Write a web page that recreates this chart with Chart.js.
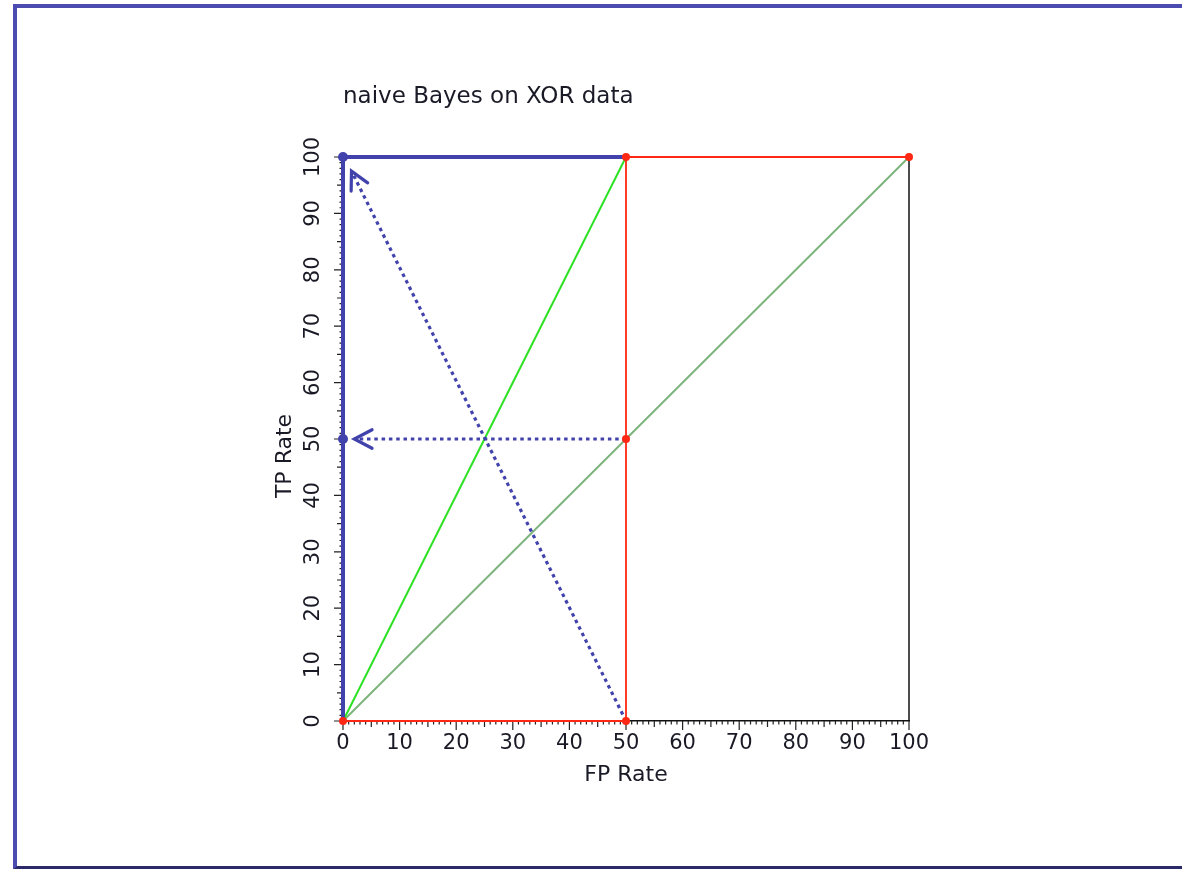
<!DOCTYPE html>
<html>
<head>
<meta charset="utf-8">
<script src="https://cdn.jsdelivr.net/npm/chart.js@4.4.1/dist/chart.umd.min.js"></script>
<style>
    body { margin: 0; background: #fff; }
    #frame {
        position: absolute; left: 13px; top: 4px; width: 1200px; height: 858px;
        border-left: 4px solid #4b4bb0; border-top: 4px solid #4b4bb0; border-bottom: 4px solid #2a2a6a;
    }
    #roc { position: absolute; left: 0; top: 0; }
</style>
</head>
<body>
<div id="frame"></div>
<canvas id="roc" width="1182" height="869"></canvas>
<script>
const titleText = "naive Bayes on XOR data";
const xLabel = "FP Rate";
const yLabel = "TP Rate";
const tickValues = [0, 10, 20, 30, 40, 50, 60, 70, 80, 90, 100];

// ROC step curve (red)
const redFpr = [0, 50, 50, 50, 100];
const redTpr = [0, 0, 50, 100, 100];
// convex hull after XOR fix (blue)
const blueFpr = [0, 0, 0, 50];
const blueTpr = [0, 50, 100, 100];
// bright green and muted green diagonals
const greenFpr = [0, 50];
const greenTpr = [0, 100];
const diagFpr = [0, 100];
const diagTpr = [0, 100];
// dotted arrows: start and tip
const arrowFromFpr = [50, 50];
const arrowFromTpr = [0, 50];
const arrowToFpr = [1.5, 2];
const arrowToTpr = [97.5, 50];

const pts = (xs, ys) => xs.map((x, i) => ({ x: x, y: ys[i] }));

const BLUE = "rgb(66, 66, 172)";
const RED = "rgb(255, 40, 20)";
const FONT = "'DejaVu Sans', sans-serif";

const arrowSets = arrowFromFpr.map((x, i) => ({
    data: pts([x, arrowToFpr[i]], [arrowFromTpr[i], arrowToTpr[i]]),
    showLine: true,
    borderColor: BLUE,
    borderWidth: 3.2,
    borderDash: [3.5, 3.8],
    pointRadius: 0,
}));

const decor = {
    id: "decor",
    beforeDatasetsDraw(chart) {
        const ctx = chart.ctx;
        const xs = chart.scales.x, ys = chart.scales.y;
        const a = chart.chartArea;
        ctx.save();
        // right border
        ctx.strokeStyle = "#111";
        ctx.lineWidth = 1.5;
        ctx.beginPath();
        ctx.moveTo(a.right, a.top);
        ctx.lineTo(a.right, a.bottom);
        ctx.stroke();
        // tick marks, major / mid / minor
        ctx.lineWidth = 1.2;
        ctx.strokeStyle = "#222";
        for (let v = 0; v <= 100; v++) {
            const len = v % 10 === 0 ? 9 : (v % 5 === 0 ? 6 : 3.5);
            const px = xs.getPixelForValue(v);
            const py = ys.getPixelForValue(v);
            ctx.beginPath();
            ctx.moveTo(px, a.bottom);
            ctx.lineTo(px, a.bottom + len);
            ctx.moveTo(a.left, py);
            ctx.lineTo(a.left - len, py);
            ctx.stroke();
        }
        ctx.restore();
    },
    afterDatasetsDraw(chart) {
        const ctx = chart.ctx;
        const xs = chart.scales.x, ys = chart.scales.y;
        const a = chart.chartArea;
        ctx.save();
        // arrow heads
        ctx.strokeStyle = BLUE;
        ctx.lineWidth = 3.2;
        ctx.lineCap = "round";
        arrowToFpr.forEach((x, i) => {
            const tx = xs.getPixelForValue(x), ty = ys.getPixelForValue(arrowToTpr[i]);
            const fx = xs.getPixelForValue(arrowFromFpr[i]), fy = ys.getPixelForValue(arrowFromTpr[i]);
            const ang = Math.atan2(fy - ty, fx - tx);
            const L = 20, spread = 0.48;
            ctx.beginPath();
            ctx.moveTo(tx + L * Math.cos(ang + spread), ty + L * Math.sin(ang + spread));
            ctx.lineTo(tx, ty);
            ctx.lineTo(tx + L * Math.cos(ang - spread), ty + L * Math.sin(ang - spread));
            ctx.stroke();
        });
        // texts
        ctx.fillStyle = "#1a1a26";
        ctx.font = "23px " + FONT;
        ctx.textAlign = "left";
        ctx.textBaseline = "alphabetic";
        ctx.fillText(titleText, a.left, 103);
        ctx.font = "22px " + FONT;
        ctx.textAlign = "center";
        ctx.fillText(xLabel, (a.left + a.right) / 2, 781);
        // y tick labels, rotated
        ctx.font = "21px " + FONT;
        tickValues.forEach(v => {
            ctx.save();
            ctx.translate(a.left - 24, ys.getPixelForValue(v));
            ctx.rotate(-Math.PI / 2);
            ctx.fillText(String(v), 0, 0);
            ctx.restore();
        });
        ctx.font = "22px " + FONT;
        ctx.save();
        ctx.translate(a.left - 52, (a.top + a.bottom) / 2 + 17);
        ctx.rotate(-Math.PI / 2);
        ctx.fillText(yLabel, 0, 0);
        ctx.restore();
        ctx.restore();
    }
};

new Chart(document.getElementById("roc").getContext("2d"), {
    type: "scatter",
    data: {
        datasets: [
            {
                data: pts(redFpr, redTpr),
                showLine: true,
                borderColor: RED,
                borderWidth: 1.8,
                backgroundColor: RED,
                pointRadius: 4,
                pointBorderWidth: 0,
            },
            {
                data: pts(blueFpr, blueTpr),
                showLine: true,
                borderColor: BLUE,
                borderWidth: 4,
                backgroundColor: BLUE,
                pointRadius: [0, 5, 5, 0],
                pointBorderWidth: 0,
            },
            ...arrowSets,
            {
                data: pts(greenFpr, greenTpr),
                showLine: true,
                borderColor: "rgb(45, 225, 35)",
                borderWidth: 2,
                pointRadius: 0,
            },
            {
                data: pts(diagFpr, diagTpr),
                showLine: true,
                borderColor: "rgb(125, 180, 125)",
                borderWidth: 2,
                pointRadius: 0,
            },
        ],
    },
    options: {
        responsive: false,
        animation: false,
        clip: false,
        layout: { padding: { left: 0, top: 157, right: 273, bottom: 0 } },
        plugins: {
            legend: { display: false },
            tooltip: { enabled: false },
        },
        scales: {
            x: {
                type: "linear",
                min: 0,
                max: 100,
                afterFit: (s) => { s.height = 148; },
                afterBuildTicks: (s) => { s.ticks = tickValues.map(v => ({ value: v })); },
                ticks: {
                    color: "#1a1a26",
                    font: { family: FONT, size: 21 },
                    padding: 2,
                    maxRotation: 0,
                },
                grid: { drawOnChartArea: false, drawTicks: true, tickLength: 8, color: "rgba(0,0,0,0)" },
                border: { color: "#111", width: 1.5 },
            },
            y: {
                type: "linear",
                min: 0,
                max: 100,
                afterFit: (s) => { s.width = 343; },
                ticks: { display: false },
                grid: { display: false },
                border: { color: "#111", width: 1.5 },
            },
        },
    },
    plugins: [decor],
});
</script>
</body>
</html>
